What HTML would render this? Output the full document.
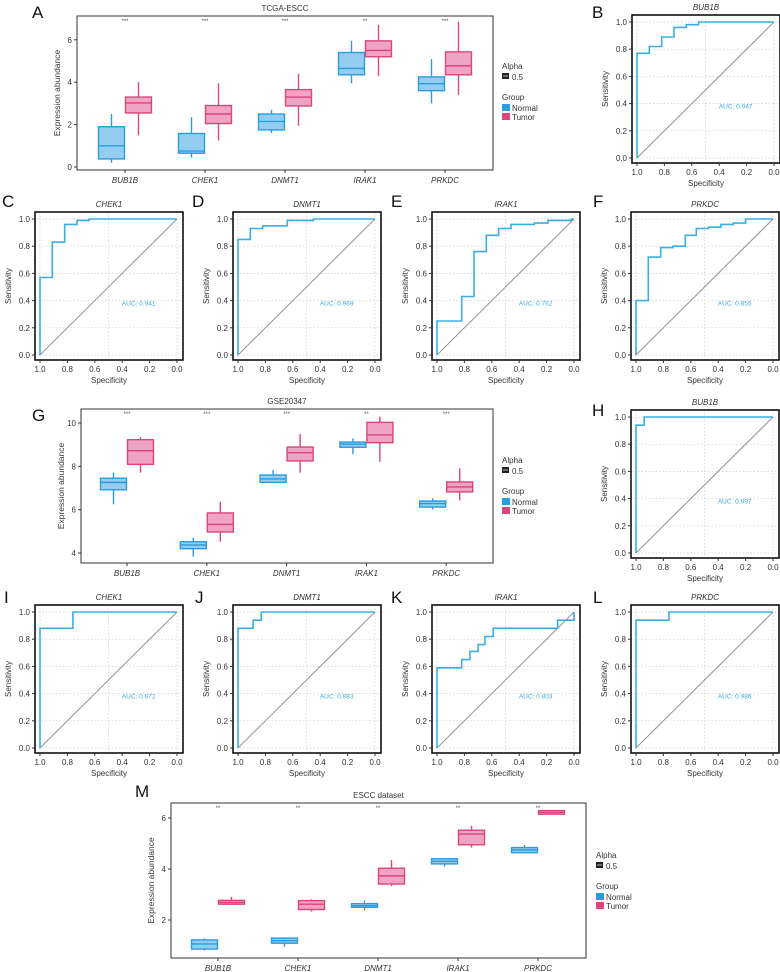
<!DOCTYPE html>
<html><head><meta charset="utf-8">
<style>
html,body{margin:0;padding:0;background:#fff;}
svg{display:block;font-family:"Liberation Sans",sans-serif;}
</style></head>
<body>
<svg id="fig" width="780" height="972" viewBox="0 0 780 972" xmlns="http://www.w3.org/2000/svg"></svg>
<script>
// ---------- DATA ----------
const genes = ["BUB1B","CHEK1","DNMT1","IRAK1","PRKDC"];
// [low, q1, median, q3, high]
const tcgaNormal = [[0.2,0.38,1.0,1.9,2.5],[0.45,0.65,0.75,1.58,2.35],[1.6,1.75,2.15,2.5,2.7],[3.95,4.35,4.65,5.4,5.95],[3.0,3.6,3.93,4.25,5.1]];
const tcgaTumor  = [[1.5,2.55,3.02,3.3,4.0],[1.25,2.05,2.5,2.9,3.95],[1.95,2.88,3.3,3.65,4.4],[4.3,5.2,5.5,5.95,6.7],[3.4,4.35,4.77,5.43,6.85]];
const tcgaSig = ["***","***","***","**","***"];
const tcgaTicks = [0,2,4,6];

const gseNormal = [[6.25,6.92,7.26,7.45,7.71],[3.83,4.2,4.37,4.52,4.71],[7.26,7.26,7.42,7.6,7.83],[8.56,8.88,9.02,9.12,9.29],[6.02,6.12,6.28,6.4,6.52]];
const gseTumor  = [[7.71,8.09,8.72,9.23,9.34],[4.52,4.97,5.32,5.85,6.37],[7.71,8.25,8.63,8.89,9.49],[8.21,9.09,9.45,10.03,10.3],[6.43,6.82,7.05,7.28,7.91]];
const gseSig = ["***","***","***","**","***"];
const gseTicks = [4,6,8,10];

const esccNormal = [[0.8,0.86,1.06,1.22,1.28],[0.95,1.09,1.19,1.29,1.32],[2.37,2.5,2.56,2.64,2.77],[4.1,4.2,4.3,4.4,4.43],[4.64,4.64,4.75,4.84,4.94]];
const esccTumor  = [[2.62,2.62,2.69,2.77,2.91],[2.33,2.41,2.62,2.76,2.81],[3.33,3.41,3.73,4.03,4.35],[4.84,4.95,5.37,5.52,5.69],[6.15,6.15,6.22,6.29,6.29]];
const esccSig = ["**","**","**","**","**"];
const esccTicks = [2,4,6];

// ROC step curves: specificity values and sensitivity values
const rocBspec = [1,1,.91,.91,.82,.82,.73,.73,.64,.64,.55,.55,0];
const rocBsens = [0,.77,.77,.82,.82,.89,.89,.96,.96,.98,.98,1,1];
const rocCspec = [1,1,.91,.91,.82,.82,.73,.73,.64,.64,0];
const rocCsens = [0,.57,.57,.83,.83,.96,.96,.99,.99,1,1];
const rocDspec = [1,1,.91,.91,.82,.82,.64,.64,.45,.45,0];
const rocDsens = [0,.85,.85,.93,.93,.95,.95,.99,.99,1,1];
const rocEspec = [1,1,.82,.82,.73,.73,.64,.64,.55,.55,.46,.46,.29,.29,.19,.19,.02,.02,0];
const rocEsens = [0,.25,.25,.43,.43,.76,.76,.88,.88,.93,.93,.96,.96,.97,.97,.99,.99,1,1];
const rocFspec = [1,1,.91,.91,.82,.82,.73,.73,.64,.64,.56,.56,.47,.47,.38,.38,.29,.29,.2,.2,0];
const rocFsens = [0,.40,.40,.72,.72,.79,.79,.80,.80,.88,.88,.93,.93,.94,.94,.96,.96,.97,.97,1,1];
const rocHspec = [1,1,.94,.94,0];
const rocHsens = [0,.94,.94,1,1];
const rocIspec = [1,1,.76,.76,0];
const rocIsens = [0,.88,.88,1,1];
const rocJspec = [1,1,.89,.89,.83,.83,0];
const rocJsens = [0,.88,.88,.94,.94,1,1];
const rocKspec = [1,1,.82,.82,.76,.76,.70,.70,.65,.65,.59,.59,.12,.12,0,0];
const rocKsens = [0,.59,.59,.65,.65,.71,.71,.76,.76,.82,.82,.88,.88,.94,.94,1];
const rocLspec = [1,1,.76,.76,0];
const rocLsens = [0,.94,.94,1,1];
const aucLabels = ["AUC: 0.947","AUC: 0.941","AUC: 0.969","AUC: 0.762","AUC: 0.855","AUC: 0.997","AUC: 0.972","AUC: 0.983","AUC: 0.803","AUC: 0.986"];
const rocTicks = [1.0,0.8,0.6,0.4,0.2,0.0];

// ---------- DRAW ----------
const NS="http://www.w3.org/2000/svg";
const svg=document.getElementById('fig');
function mk(tag,attrs,parent,text){
  const e=document.createElementNS(NS,tag);
  for(const k in attrs) e.setAttribute(k,attrs[k]);
  if(text!==undefined) e.textContent=text;
  (parent||svg).appendChild(e);
  return e;
}
function txt(x,y,s,size,opts,parent){
  opts=opts||{};
  const e=mk('text',{x:x,y:y,'font-size':size,fill:opts.fill||'#333','text-anchor':opts.anchor||'start'},parent,s);
  if(opts.italic) e.setAttribute('font-style','italic');
  if(opts.rotate) e.setAttribute('transform','rotate(-90 '+x+' '+y+')');
  return e;
}
const BLUE='#2a9ddf', BLUEF='#95cdf0', PINK='#d9457c', PINKF='#f0a4c3';

function letter(x,y,s){
  const e=txt(x,y,s,17,{fill:'#111'});
  
  
}

function boxPanel(name,cfg,normal,tumor,sig,ticks,title){
  const g=mk('g',{});
  
  
  const yS=v=>cfg.y0+(cfg.vTop-v)*cfg.k;
  // frame
  const fr=mk('rect',{x:cfg.l,y:cfg.t,width:cfg.r-cfg.l,height:cfg.b-cfg.t,fill:'none',stroke:'#333','stroke-width':1},g);
  
  
  const tt=txt((cfg.l+cfg.r)/2,cfg.t-5,title,8,{anchor:'middle'},g);
  
  
  ticks.forEach(v=>{
    const y=yS(v);
    mk('line',{x1:cfg.l-3,x2:cfg.l,y1:y,y2:y,stroke:'#333'},g);
    const t=txt(cfg.l-5,y+3,String(v),8,{anchor:'end'},g);
    
    
  });
  const yt=txt(cfg.l-17,(cfg.t+cfg.b)/2,'Expression abundance',8.5,{anchor:'middle',rotate:true},g);
  
  
  genes.forEach((gn,i)=>{
    const cx=cfg.c0+i*cfg.sp;
    mk('line',{x1:cx,x2:cx,y1:cfg.b,y2:cfg.b+3,stroke:'#333'},g);
    const xl=txt(cx,cfg.b+13,gn,8,{anchor:'middle',italic:true},g);
    
    
    const st=txt(cx,cfg.t+7,sig[i],6,{anchor:'middle',fill:'#555'},g);
    
    
    [[normal[i],-13.5,BLUE,BLUEF,'normal'],[tumor[i],13.5,PINK,PINKF,'tumor']].forEach(([d,off,sc,fc,lab])=>{
      const x=cx+off, w=26;
      const bg=mk('g',{},g);
      
      
      mk('line',{x1:x,x2:x,y1:yS(d[0]),y2:yS(d[4]),stroke:sc,'stroke-width':1.4},bg);
      mk('rect',{x:x-w/2,y:yS(d[3]),width:w,height:Math.max(0.5,yS(d[1])-yS(d[3])),fill:fc,stroke:sc,'stroke-width':1.4},bg);
      mk('line',{x1:x-w/2,x2:x+w/2,y1:yS(d[2]),y2:yS(d[2]),stroke:sc,'stroke-width':1.4},bg);
    });
  });
  // legend
  const lg=mk('g',{},g);
  
  
  const lx=cfg.lx, ly=cfg.ly;
  txt(lx,ly,'Alpha',8,{},lg);
  mk('rect',{x:lx,y:ly+4,width:7,height:6,fill:'#222'},lg);
  mk('line',{x1:lx+1,x2:lx+6,y1:ly+7,y2:ly+7,stroke:'#ddd','stroke-width':0.8},lg);
  txt(lx+10,ly+11,'0.5',8,{},lg);
  txt(lx,ly+31,'Group',8,{},lg);
  const e1=mk('rect',{x:lx,y:ly+35,width:8,height:7,fill:BLUE},lg);
  
  
  txt(lx+10,ly+42,'Normal',8,{},lg);
  const e2=mk('rect',{x:lx,y:ly+44,width:8,height:7,fill:PINK},lg);
  
  
  txt(lx+10,ly+51,'Tumor',8,{},lg);
}

function rocPanel(name,L,T,title,spec,sens,auc){
  const g=mk('g',{});
  
  
  const W=148,H=148;
  const xS=s=>L+5+(1-s)*137, yS=s=>T+7+(1-s)*136;
  // grid
  [0.2,0.4,0.6,0.8,1.0,0].forEach(v=>mk('line',{x1:L,x2:L+W,y1:yS(v),y2:yS(v),stroke:'#ccc','stroke-width':0.7,'stroke-dasharray':'1.5,2'},g));
  [1.0,0.5,0].forEach(v=>mk('line',{x1:xS(v),x2:xS(v),y1:T,y2:T+H,stroke:'#ccc','stroke-width':0.7,'stroke-dasharray':'1.5,2'},g));
  const dg=mk('line',{x1:xS(1),y1:yS(0),x2:xS(0),y2:yS(1),stroke:'#999','stroke-width':1.1},g);
  
  
  const pts=spec.map((s,i)=>xS(s).toFixed(1)+','+yS(sens[i]).toFixed(1)).join(' ');
  const pl=mk('polyline',{points:pts,fill:'none',stroke:'#3aaee3','stroke-width':1.6},g);
  
  
  const fr=mk('rect',{x:L,y:T,width:W,height:H,fill:'none',stroke:'#111','stroke-width':1.6},g);
  
  
  const tt=txt(L+W/2,T-5,title,8,{anchor:'middle',italic:true},g);
  
  
  rocTicks.forEach(v=>{
    mk('line',{x1:L-3,x2:L,y1:yS(v),y2:yS(v),stroke:'#333'},g);
    const a=txt(L-5,yS(v)+3,v.toFixed(1),8,{anchor:'end'},g);
    
    
    mk('line',{x1:xS(v),x2:xS(v),y1:T+H,y2:T+H+3,stroke:'#333'},g);
    const b=txt(xS(v),T+H+12,v.toFixed(1),8,{anchor:'middle'},g);
    
    
  });
  const ya=txt(L-24,T+H/2,'Sensitivity',8,{anchor:'middle',rotate:true},g);
  
  
  const xa=txt(L+W/2,T+H+23,'Specificity',8,{anchor:'middle'},g);
  
  
  const al=txt(xS(0.28),yS(0.38)+2,auc,6.5,{anchor:'middle',fill:'#3aaee3'},g);
  
  
}

boxPanel('boxplot-tcga-escc',{l:77,r:493,t:16,b:170,y0:167,vTop:0,k:21.2,c0:125,sp:80,lx:502,ly:69},tcgaNormal,tcgaTumor,tcgaSig,tcgaTicks,'TCGA-ESCC');
boxPanel('boxplot-gse20347',{l:81,r:493,t:409,b:563,y0:423,vTop:10,k:21.67,c0:127,sp:79.8,lx:502,ly:463},gseNormal,gseTumor,gseSig,gseTicks,'GSE20347');
boxPanel('boxplot-escc-dataset',{l:171,r:586,t:803,b:958,y0:818,vTop:6,k:25.5,c0:218,sp:80,lx:596,ly:858},esccNormal,esccTumor,esccSig,esccTicks,'ESCC dataset');

rocPanel('roc-b-bub1b',632,15,'BUB1B',rocBspec,rocBsens,aucLabels[0]);
rocPanel('roc-c-chek1',35,212,'CHEK1',rocCspec,rocCsens,aucLabels[1]);
rocPanel('roc-d-dnmt1',233,212,'DNMT1',rocDspec,rocDsens,aucLabels[2]);
rocPanel('roc-e-irak1',432,212,'IRAK1',rocEspec,rocEsens,aucLabels[3]);
rocPanel('roc-f-prkdc',631,212,'PRKDC',rocFspec,rocFsens,aucLabels[4]);
rocPanel('roc-h-bub1b',631,410,'BUB1B',rocHspec,rocHsens,aucLabels[5]);
rocPanel('roc-i-chek1',35,605,'CHEK1',rocIspec,rocIsens,aucLabels[6]);
rocPanel('roc-j-dnmt1',233,605,'DNMT1',rocJspec,rocJsens,aucLabels[7]);
rocPanel('roc-k-irak1',432,605,'IRAK1',rocKspec,rocKsens,aucLabels[8]);
rocPanel('roc-l-prkdc',631,605,'PRKDC',rocLspec,rocLsens,aucLabels[9]);

letter(32,18,'A'); letter(592,18,'B'); letter(2,207,'C'); letter(192,207,'D');
letter(391,207,'E'); letter(593,207,'F'); letter(32,421,'G'); letter(592,416,'H');
letter(4,603,'I'); letter(195,603,'J'); letter(391,603,'K'); letter(593,603,'L');
letter(135,797,'M');
</script>
</body></html>
